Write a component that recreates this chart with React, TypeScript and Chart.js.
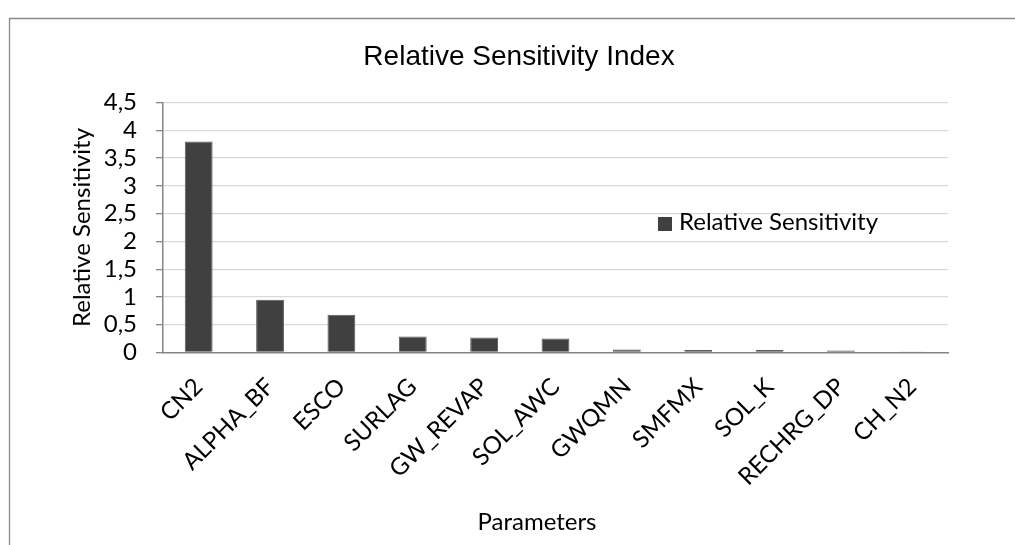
import React, { useEffect, useRef } from "react";
import { Chart, registerables } from "chart.js";

Chart.register(...registerables);

const categories = ["CN2", "ALPHA_BF", "ESCO", "SURLAG", "GW_REVAP", "SOL_AWC", "GWQMN", "SMFMX", "SOL_K", "RECHRG_DP", "CH_N2"];
const sensitivity = [3.8, 0.95, 0.68, 0.29, 0.27, 0.25, 0.055, 0.045, 0.045, 0.035, 0.02];
const yTickLabels = ["0", "0,5", "1", "1,5", "2", "2,5", "3", "3,5", "4", "4,5"];
const seriesName = "Relative Sensitivity";
const chartTitle = "Relative Sensitivity Index";
const xTitle = "Parameters";
const yTitle = "Relative Sensitivity";

const BODY_FONT = "Lato";
const BAR_COLOR = "#404040";

const decorPlugin = {
  id: "decor",
  beforeDraw(chart: any) {
    const ctx = chart.ctx;
    ctx.save();
    ctx.strokeStyle = "#8a8a8a";
    ctx.lineWidth = 1.3;
    ctx.beginPath();
    ctx.moveTo(9.5, chart.height);
    ctx.lineTo(9.5, 18.5);
    ctx.lineTo(chart.width, 18.5);
    ctx.stroke();
    ctx.restore();
  },
  afterDraw(chart: any) {
    const ctx = chart.ctx;
    const area = chart.chartArea;
    ctx.save();
    ctx.fillStyle = "#000";
    // title
    ctx.font = '28px "Liberation Sans"';
    ctx.textAlign = "center";
    ctx.textBaseline = "alphabetic";
    ctx.fillText(chartTitle, 519, 65);
    // x title
    ctx.font = `24px ${BODY_FONT}`;
    ctx.fillText(xTitle, 537, 529.5);
    // y title
    ctx.save();
    ctx.translate(82, (area.top + area.bottom) / 2);
    ctx.rotate(-Math.PI / 2);
    ctx.textBaseline = "middle";
    ctx.fillText(yTitle, 0, 0);
    ctx.restore();
    // legend
    const ds = chart.data.datasets[0];
    ctx.fillStyle = ds.backgroundColor;
    ctx.fillRect(658, 217, 14, 14);
    ctx.fillStyle = "#000";
    ctx.textAlign = "left";
    ctx.textBaseline = "alphabetic";
    ctx.fillText(ds.label, 679, 229.5);
    ctx.restore();
  },
};

export default function App() {
  const canvasRef = useRef<HTMLCanvasElement | null>(null);

  useEffect(() => {
    if (!canvasRef.current) return;
    const chart = new Chart(canvasRef.current, {
      type: "bar",
      data: {
        labels: categories,
        datasets: [
          {
            label: seriesName,
            data: sensitivity,
            backgroundColor: BAR_COLOR,
            borderColor: "#5a5a5a",
            borderWidth: 1,
            categoryPercentage: 1,
            barPercentage: 0.39,
          },
        ],
      },
      options: {
        animation: false,
        responsive: false,
        devicePixelRatio: 1,
        layout: { padding: { left: 0, top: 102.5, right: 67, bottom: 0 } },
        plugins: {
          legend: { display: false },
          title: { display: false },
          tooltip: { enabled: false },
        },
        scales: {
          x: {
            grid: { display: false },
            border: { display: true, color: "#868686", width: 1.5 },
            ticks: {
              autoSkip: false,
              maxRotation: 45,
              minRotation: 45,
              padding: 12,
              color: "#000",
              font: { family: BODY_FONT, size: 24 },
            },
            afterFit: (scale: any) => {
              scale.height = 192.5;
            },
          },
          y: {
            min: 0,
            max: 4.5,
            ticks: {
              stepSize: 0.5,
              autoSkip: false,
              padding: 19,
              color: "#000",
              font: { family: BODY_FONT, size: 24 },
              callback: (_v: any, i: number) => yTickLabels[i],
            },
            grid: {
              color: (c: any) => (c.tick && c.tick.value === 0 ? "rgba(0,0,0,0)" : "#d9d9d9"),
              lineWidth: 1.3,
              tickColor: "#868686",
              tickLength: 7,
              drawTicks: true,
            },
            border: { display: true, color: "#868686", width: 1.5 },
            afterFit: (scale: any) => {
              scale.width = 163;
            },
          },
        },
      },
      plugins: [decorPlugin],
    });
    return () => chart.destroy();
  }, []);

  return (
    <div style={{ position: "absolute", left: 0, top: 0, width: 1015, height: 545, background: "#fff" }}>
      <canvas ref={canvasRef} width={1015} height={545} style={{ display: "block" }} />
    </div>
  );
}
